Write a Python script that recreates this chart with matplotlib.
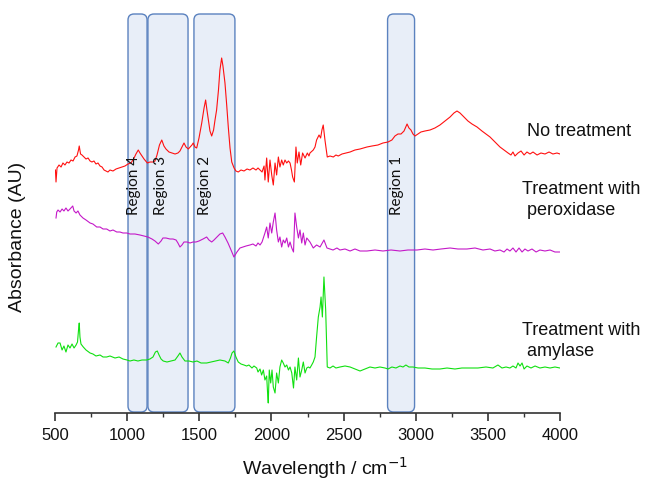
import matplotlib
matplotlib.use("Agg")
import matplotlib.pyplot as plt
from matplotlib.patches import FancyBboxPatch
from matplotlib.ticker import MultipleLocator

# Spectra, stacked with vertical offsets (wavenumber in cm-1, absorbance in AU)
wn_none = [503, 507, 514, 528, 542, 555, 569, 583, 597, 611, 625, 639, 652, 663, 668, 677, 687, 701,
           715, 729, 743, 756, 770, 784, 798, 812, 826, 840, 853, 867, 881, 902, 923, 944, 964, 985,
           1006, 1027, 1048, 1061, 1077, 1089, 1103, 1117, 1140, 1158, 1179, 1193, 1207, 1224, 1240,
           1255, 1269, 1290, 1311, 1332, 1352, 1366, 1380, 1394, 1408, 1424, 1436, 1449, 1458, 1470,
           1482, 1498, 1517, 1533, 1544, 1553, 1563, 1574, 1586, 1599, 1609, 1620, 1633, 1643, 1655,
           1664, 1678, 1690, 1701, 1713, 1725, 1741, 1754, 1770, 1789, 1810, 1831, 1851, 1872, 1893,
           1907, 1921, 1935, 1949, 1955, 1967, 1978, 1990, 2002, 2013, 2025, 2036, 2048, 2059, 2071,
           2082, 2094, 2106, 2118, 2129, 2139, 2147, 2159, 2170, 2179, 2191, 2203, 2216, 2233, 2249,
           2260, 2267, 2290, 2302, 2313, 2330, 2341, 2350, 2359, 2371, 2387, 2406, 2429, 2447, 2463,
           2489, 2517, 2545, 2579, 2614, 2662, 2697, 2738, 2773, 2808, 2835, 2856, 2877, 2898, 2919,
           2940, 2953, 2967, 2981, 2995, 3016, 3036, 3064, 3099, 3133, 3168, 3203, 3238, 3265, 3286,
           3307, 3335, 3362, 3390, 3425, 3459, 3487, 3515, 3549, 3584, 3612, 3640, 3660, 3674, 3688,
           3709, 3730, 3751, 3771, 3792, 3813, 3841, 3868, 3896, 3924, 3951, 3979, 4000]
abs_none = [2.43, 2.31, 2.45, 2.48, 2.46, 2.50, 2.48, 2.51, 2.50, 2.53, 2.52, 2.56, 2.57, 2.63, 2.67,
            2.59, 2.58, 2.56, 2.54, 2.55, 2.52, 2.51, 2.52, 2.49, 2.50, 2.47, 2.46, 2.43, 2.42, 2.41,
            2.43, 2.42, 2.44, 2.45, 2.46, 2.47, 2.49, 2.50, 2.55, 2.59, 2.63, 2.60, 2.57, 2.54, 2.50,
            2.51, 2.51, 2.52, 2.58, 2.68, 2.73, 2.67, 2.64, 2.61, 2.60, 2.59, 2.60, 2.62, 2.66, 2.70,
            2.66, 2.64, 2.66, 2.68, 2.70, 2.66, 2.65, 2.75, 2.90, 3.05, 3.13, 3.03, 2.93, 2.82, 2.77,
            2.83, 2.93, 3.03, 3.23, 3.43, 3.55, 3.47, 3.30, 3.08, 2.86, 2.65, 2.51, 2.45, 2.42, 2.41,
            2.43, 2.42, 2.44, 2.43, 2.45, 2.43, 2.45, 2.43, 2.41, 2.47, 2.33, 2.55, 2.31, 2.53, 2.38,
            2.28, 2.50, 2.38, 2.56, 2.46, 2.53, 2.48, 2.53, 2.50, 2.52, 2.50, 2.43, 2.36, 2.31, 2.66,
            2.50, 2.61, 2.48, 2.60, 2.55, 2.60, 2.57, 2.60, 2.63, 2.66, 2.73, 2.78, 2.75, 2.83, 2.88,
            2.73, 2.56, 2.57, 2.56, 2.58, 2.57, 2.59, 2.60, 2.61, 2.63, 2.64, 2.66, 2.67, 2.68, 2.70,
            2.71, 2.73, 2.77, 2.79, 2.79, 2.82, 2.89, 2.85, 2.83, 2.79, 2.77, 2.79, 2.81, 2.82, 2.83,
            2.85, 2.88, 2.92, 2.96, 3.00, 3.02, 3.00, 2.96, 2.92, 2.89, 2.86, 2.82, 2.79, 2.76, 2.71,
            2.66, 2.63, 2.60, 2.58, 2.61, 2.57, 2.60, 2.62, 2.58, 2.61, 2.59, 2.61, 2.58, 2.60, 2.59,
            2.61, 2.59, 2.60, 2.59]

wn_perox = [507, 512, 521, 535, 549, 562, 576, 590, 604, 623, 632, 646, 659, 673, 694, 715, 743, 763,
            789, 812, 833, 858, 881, 902, 928, 950, 971, 997, 1020, 1054, 1089, 1117, 1144, 1172, 1193,
            1216, 1235, 1248, 1269, 1297, 1318, 1339, 1352, 1366, 1380, 1394, 1415, 1436, 1456, 1477,
            1498, 1526, 1551, 1567, 1586, 1602, 1623, 1643, 1662, 1678, 1699, 1720, 1740, 1761, 1782,
            1803, 1824, 1851, 1872, 1893, 1907, 1921, 1935, 1955, 1967, 1978, 1990, 2002, 2013, 2025,
            2036, 2048, 2059, 2071, 2082, 2094, 2106, 2118, 2129, 2141, 2153, 2163, 2175, 2187, 2198,
            2210, 2221, 2233, 2245, 2267, 2290, 2313, 2337, 2364, 2385, 2406, 2427, 2454, 2475, 2510,
            2545, 2579, 2614, 2662, 2718, 2773, 2829, 2891, 2946, 3009, 3064, 3120, 3175, 3238, 3293,
            3355, 3411, 3466, 3515, 3549, 3584, 3612, 3633, 3653, 3674, 3695, 3716, 3737, 3757, 3778,
            3806, 3834, 3861, 3896, 3931, 3965, 4000]
abs_perox = [1.95, 2.01, 2.03, 2.01, 2.04, 2.02, 2.05, 2.02, 2.04, 2.07, 2.02, 2.00, 2.02, 1.98, 1.95,
             1.93, 1.90, 1.89, 1.86, 1.86, 1.84, 1.84, 1.82, 1.83, 1.81, 1.81, 1.80, 1.80, 1.79, 1.79,
             1.78, 1.77, 1.76, 1.74, 1.72, 1.69, 1.72, 1.75, 1.75, 1.74, 1.74, 1.73, 1.70, 1.66, 1.68,
             1.71, 1.71, 1.70, 1.71, 1.71, 1.72, 1.74, 1.76, 1.73, 1.71, 1.73, 1.76, 1.79, 1.80, 1.76,
             1.70, 1.63, 1.56, 1.61, 1.65, 1.66, 1.67, 1.68, 1.69, 1.67, 1.70, 1.68, 1.71, 1.80, 1.86,
             1.75, 1.90, 1.80, 1.91, 2.00, 1.83, 1.71, 1.76, 1.66, 1.73, 1.70, 1.75, 1.66, 1.71, 1.65,
             1.61, 2.00, 1.86, 1.75, 1.83, 1.70, 1.80, 1.68, 1.75, 1.71, 1.65, 1.68, 1.66, 1.73, 1.65,
             1.64, 1.63, 1.65, 1.63, 1.64, 1.62, 1.64, 1.62, 1.62, 1.63, 1.62, 1.63, 1.62, 1.63, 1.63,
             1.64, 1.63, 1.64, 1.65, 1.64, 1.64, 1.65, 1.63, 1.64, 1.62, 1.63, 1.61, 1.64, 1.62, 1.65,
             1.61, 1.65, 1.61, 1.64, 1.62, 1.64, 1.61, 1.63, 1.62, 1.63, 1.61, 1.61]

wn_amyl = [507, 521, 535, 549, 562, 576, 590, 604, 618, 632, 646, 656, 663, 668, 673, 680, 696, 715,
           743, 763, 784, 812, 833, 858, 881, 916, 944, 971, 999, 1020, 1047, 1075, 1103, 1136, 1158,
           1179, 1196, 1209, 1221, 1235, 1250, 1276, 1304, 1332, 1352, 1366, 1380, 1401, 1429, 1456,
           1484, 1512, 1551, 1581, 1609, 1643, 1678, 1701, 1716, 1727, 1740, 1754, 1770, 1789, 1810,
           1828, 1844, 1865, 1879, 1898, 1907, 1921, 1932, 1944, 1955, 1967, 1973, 1978, 1985, 1995,
           2004, 2013, 2025, 2036, 2048, 2059, 2071, 2082, 2094, 2106, 2118, 2129, 2141, 2153, 2163,
           2175, 2187, 2198, 2210, 2221, 2233, 2245, 2256, 2267, 2279, 2290, 2302, 2313, 2325, 2337,
           2344, 2353, 2364, 2376, 2387, 2406, 2427, 2447, 2475, 2510, 2545, 2579, 2614, 2648, 2683,
           2718, 2752, 2787, 2808, 2835, 2863, 2891, 2912, 2932, 2953, 2981, 3016, 3064, 3113, 3168,
           3217, 3272, 3320, 3376, 3431, 3487, 3535, 3570, 3598, 3626, 3653, 3674, 3695, 3709, 3723,
           3737, 3751, 3771, 3799, 3827, 3861, 3896, 3931, 3965, 4000]
abs_amyl = [0.66, 0.70, 0.70, 0.63, 0.67, 0.61, 0.68, 0.65, 0.69, 0.65, 0.68, 0.71, 0.83, 0.90, 0.76,
            0.69, 0.66, 0.63, 0.60, 0.59, 0.57, 0.58, 0.56, 0.56, 0.57, 0.55, 0.56, 0.54, 0.53, 0.52,
            0.53, 0.52, 0.53, 0.53, 0.54, 0.56, 0.61, 0.62, 0.58, 0.54, 0.52, 0.51, 0.52, 0.53, 0.57,
            0.60, 0.56, 0.52, 0.52, 0.51, 0.52, 0.50, 0.50, 0.51, 0.52, 0.53, 0.52, 0.50, 0.55, 0.60,
            0.62, 0.56, 0.51, 0.49, 0.48, 0.47, 0.48, 0.45, 0.47, 0.45, 0.41, 0.44, 0.38, 0.43, 0.33,
            0.37, 0.21, 0.10, 0.43, 0.30, 0.43, 0.26, 0.20, 0.40, 0.30, 0.46, 0.53, 0.50, 0.46, 0.48,
            0.43, 0.46, 0.40, 0.25, 0.46, 0.33, 0.55, 0.36, 0.43, 0.51, 0.40, 0.45, 0.46, 0.45, 0.48,
            0.51, 0.56, 0.76, 0.96, 1.06, 1.16, 0.96, 1.36, 1.03, 0.46, 0.45, 0.47, 0.45, 0.46, 0.47,
            0.46, 0.44, 0.42, 0.44, 0.46, 0.45, 0.46, 0.45, 0.44, 0.46, 0.45, 0.47, 0.46, 0.48, 0.46,
            0.46, 0.45, 0.45, 0.44, 0.44, 0.45, 0.44, 0.45, 0.45, 0.45, 0.46, 0.45, 0.48, 0.45, 0.46,
            0.45, 0.47, 0.45, 0.50, 0.47, 0.50, 0.44, 0.47, 0.45, 0.47, 0.45, 0.46, 0.45, 0.46, 0.45]

# Highlighted bands: (label, start, end) in cm-1
regions = [("Region 4", 1006, 1138), ("Region 3", 1144, 1422),
           ("Region 2", 1463, 1747), ("Region 1", 2805, 2992)]
region_label_x = [1050, 1235, 1543, 2870]

series_labels = ["No treatment", "Treatment with\n peroxidase", "Treatment with\n amylase"]

plt.rcParams['font.family'] = ['Liberation Sans', 'DejaVu Sans']

fig = plt.figure(figsize=(6.51, 4.8), dpi=100)
ax = fig.add_axes([55 / 651, 67 / 480, 505 / 651, 413 / 480])
ax.set_xlim(500, 4000)
ax.set_ylim(0, 4.13)

for (name, x0, x1), lx in zip(regions, region_label_x):
    box = FancyBboxPatch((x0, 0.01), x1 - x0, 3.98,
                         boxstyle="round,pad=0,rounding_size=42",
                         mutation_aspect=0.06 / 42,
                         facecolor="#e8eef8", edgecolor="#5b82bf", linewidth=1.0, zorder=1)
    ax.add_patch(box)
    ax.text(lx, 1.98, name, rotation=90, ha="center", va="bottom",
            fontsize=11, family=["Lato", "DejaVu Sans"], color="#111111", zorder=3)

ax.plot(wn_none, abs_none, color="#ff1010", lw=0.8, zorder=2)
ax.plot(wn_perox, abs_perox, color="#c418c8", lw=0.8, zorder=2)
ax.plot(wn_amyl, abs_amyl, color="#10e010", lw=0.8, zorder=2)

fig.text(527 / 651, 1 - 132 / 480, series_labels[0], fontsize=13, va="center", color="#111111")
fig.text(522 / 651, 1 - 200 / 480, series_labels[1], fontsize=13, va="center",
         linespacing=1.25, color="#111111")
fig.text(522 / 651, 1 - 341 / 480, series_labels[2], fontsize=13, va="center",
         linespacing=1.25, color="#111111")

for side in ["left", "right", "top"]:
    ax.spines[side].set_visible(False)
ax.spines["bottom"].set_color("#333333")
ax.spines["bottom"].set_linewidth(1.2)
ax.set_yticks([])
ax.xaxis.set_major_locator(MultipleLocator(500))
ax.xaxis.set_minor_locator(MultipleLocator(250))
ax.tick_params(axis="x", which="major", length=6, width=1.2, color="#333333",
               labelsize=12, labelcolor="#111111", pad=5)
ax.tick_params(axis="x", which="minor", length=3, width=1.0, color="#333333")

fig.text(325 / 651, 1 - 468 / 480, "Wavelength / cm$^{-1}$", fontsize=14, ha="center", va="center",
         color="#111111")
fig.text(18 / 651, 1 - 237 / 480, "Absorbance (AU)", fontsize=14, ha="center", va="center",
         rotation=90, color="#111111")

fig.savefig("out.png", dpi=100)
